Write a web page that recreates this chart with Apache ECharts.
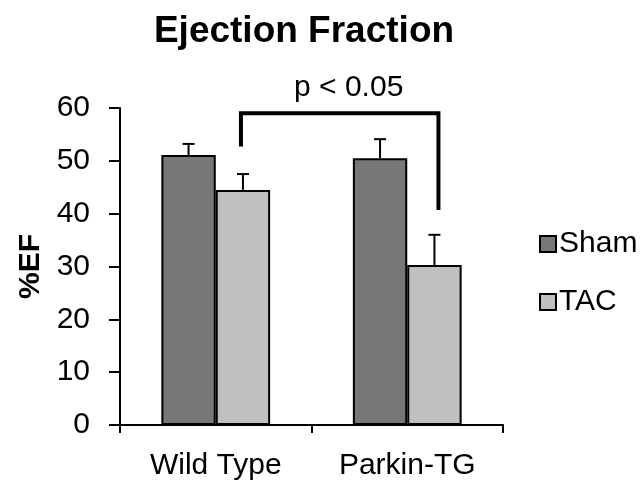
<!DOCTYPE html>
<html>
<head>
<meta charset="utf-8">
<script src="https://cdn.jsdelivr.net/npm/echarts@6/dist/echarts.min.js"></script>
<style>
  html, body { margin: 0; padding: 0; background: #fff; }
  #chart { width: 642px; height: 487px; }
</style>
</head>
<body>
<div id="chart"></div>
<script>
// Ejection fraction by genotype and surgery
const categories = ['Wild Type', 'Parkin-TG'];
const shamMean = [51.1, 50.5];
const shamUpper = [53.2, 54.1];
const tacMean = [44.5, 30.3];
const tacUpper = [47.5, 36.0];
const yTicks = [0, 10, 20, 30, 40, 50, 60];

// significance bracket between the two TAC bars
const bracketTop = 59;
const bracketEnds = [52.7, 40.7];
const bracketLabel = 'p < 0.05';
const bracketLabelY = 63.9;

const FONT = 'Liberation Sans, Arial, sans-serif';
const BAR_FRAC = 0.284;

const chart = echarts.init(document.getElementById('chart'));

function errorBarSeries(name, means, uppers, side) {
  return {
    name: name + ' err',
    type: 'custom',
    z: 3,
    silent: true,
    data: means.map((m, i) => [i, m, uppers[i]]),
    renderItem: function (params, api) {
      const band = api.size([1, 0])[0];
      const dx = side * band * BAR_FRAC / 2;
      const base = api.coord([api.value(0), api.value(1)]);
      const top = api.coord([api.value(0), api.value(2)]);
      const x = base[0] + dx;
      const cap = 6;
      const style = { stroke: '#000', lineWidth: 2 };
      return {
        type: 'group',
        children: [
          { type: 'line', shape: { x1: x, y1: base[1], x2: x, y2: top[1] }, style: style },
          { type: 'line', shape: { x1: x - cap, y1: top[1], x2: x + cap, y2: top[1] }, style: style }
        ]
      };
    }
  };
}

chart.setOption({
  animation: false,
  backgroundColor: '#ffffff',
  title: {
    text: 'Ejection Fraction',
    left: 304,
    top: 13,
    padding: 0,
    textAlign: 'center',
    textStyle: { fontFamily: FONT, fontSize: 37, fontWeight: 'bold', color: '#000' }
  },
  legend: {
    orient: 'vertical',
    left: 534,
    top: 224,
    icon: 'rect',
    itemWidth: 16,
    itemHeight: 16,
    itemGap: 28,
    data: ['Sham', 'TAC'],
    textStyle: { fontFamily: FONT, fontSize: 30, color: '#000', padding: [0, 0, 0, -2] }
  },
  grid: { left: 120, right: 139, top: 108, bottom: 62, containLabel: false },
  xAxis: {
    type: 'category',
    data: categories,
    axisLine: { lineStyle: { color: '#000', width: 2 } },
    axisTick: { show: true, length: 8, lineStyle: { color: '#000', width: 2 } },
    axisLabel: { fontFamily: FONT, fontSize: 30, color: '#000', margin: 26 }
  },
  yAxis: {
    type: 'value',
    min: yTicks[0],
    max: yTicks[yTicks.length - 1],
    interval: 10,
    name: '%EF',
    nameLocation: 'middle',
    nameGap: 74,
    nameRotate: 90,
    nameTextStyle: { fontFamily: FONT, fontSize: 30, fontWeight: 'bold', color: '#000' },
    axisLine: { show: true, lineStyle: { color: '#000', width: 2 } },
    axisTick: { show: true, length: 11, lineStyle: { color: '#000', width: 2 } },
    axisLabel: { fontFamily: FONT, fontSize: 30, color: '#000', margin: 30 },
    splitLine: { show: false }
  },
  series: [
    {
      name: 'Sham',
      type: 'bar',
      data: shamMean,
      barWidth: (BAR_FRAC * 100) + '%',
      barGap: '0%',
      itemStyle: { color: '#777777', borderColor: '#000', borderWidth: 2 }
    },
    {
      name: 'TAC',
      type: 'bar',
      data: tacMean,
      barWidth: (BAR_FRAC * 100) + '%',
      barGap: '0%',
      itemStyle: { color: '#c0c0c0', borderColor: '#000', borderWidth: 2 }
    },
    errorBarSeries('Sham', shamMean, shamUpper, -1),
    errorBarSeries('TAC', tacMean, tacUpper, 1),
    {
      name: 'bracket',
      type: 'custom',
      silent: true,
      clip: false,
      z: 4,
      data: [[0, 1, bracketTop, bracketEnds[0], bracketEnds[1], bracketLabelY]],
      renderItem: function (params, api) {
        const band = api.size([1, 0])[0];
        const dx = band * BAR_FRAC / 2;
        const topL = api.coord([api.value(0), api.value(2)]);
        const topR = api.coord([api.value(1), api.value(2)]);
        const endL = api.coord([api.value(0), api.value(3)]);
        const endR = api.coord([api.value(1), api.value(4)]);
        const lab = api.coord([api.value(0), api.value(5)]);
        const xl = topL[0] + dx - 2;
        const xr = topR[0] + dx + 4;
        return {
          type: 'group',
          children: [
            {
              type: 'polyline',
              shape: { points: [[xl, endL[1]], [xl, topL[1]], [xr, topR[1]], [xr, endR[1]]] },
              style: { stroke: '#000', lineWidth: 4, fill: null, lineJoin: 'miter' }
            },
            {
              type: 'text',
              style: {
                text: bracketLabel,
                x: (xl + xr) / 2 + 9,
                y: lab[1],
                align: 'center',
                verticalAlign: 'middle',
                font: '30px ' + FONT,
                fill: '#000'
              }
            }
          ]
        };
      }
    }
  ]
});
</script>
</body>
</html>
